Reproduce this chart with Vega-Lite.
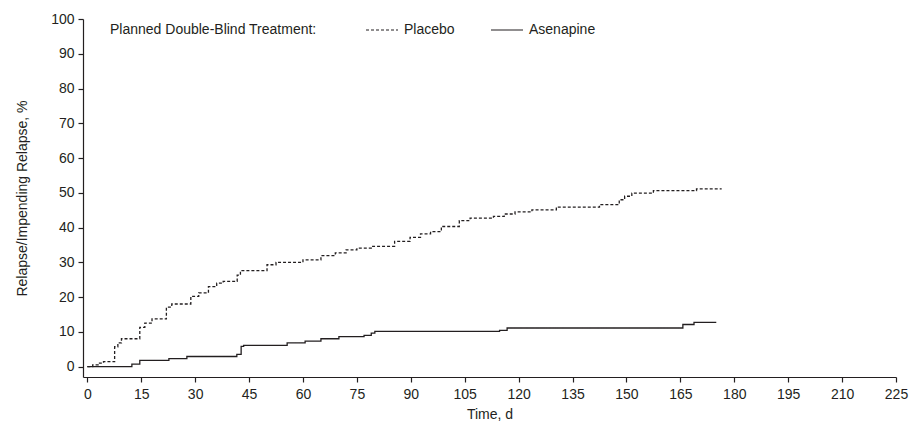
{
  "$schema": "https://vega.github.io/schema/vega-lite/v6.json",
  "width": 813,
  "height": 358,
  "autosize": {"type": "none"},
  "padding": {"left": 83, "top": 19, "right": 14, "bottom": 54},
  "background": "white",
  "config": {
    "view": {"stroke": null},
    "font": "Liberation Sans, Arial, sans-serif",
    "axis": {
      "domainColor": "#231f20",
      "tickColor": "#231f20",
      "labelColor": "#231f20",
      "titleColor": "#231f20",
      "labelFont": "Liberation Sans",
      "titleFont": "Liberation Sans",
      "labelFontSize": 14,
      "titleFontSize": 14,
      "titleFontWeight": "normal",
      "grid": false,
      "tickSize": 5,
      "domainWidth": 1.2,
      "tickWidth": 1.2
    }
  },
  "data": {
    "values": [
      {"arm": "Placebo", "t": 0, "v": 0},
      {"arm": "Placebo", "t": 1.5, "v": 0.5},
      {"arm": "Placebo", "t": 3, "v": 1.0},
      {"arm": "Placebo", "t": 4.5, "v": 1.4},
      {"arm": "Placebo", "t": 7.6, "v": 5.7},
      {"arm": "Placebo", "t": 8.5, "v": 6.8},
      {"arm": "Placebo", "t": 9.5, "v": 8.0},
      {"arm": "Placebo", "t": 14.6, "v": 11.3},
      {"arm": "Placebo", "t": 16, "v": 12.5},
      {"arm": "Placebo", "t": 18, "v": 13.7},
      {"arm": "Placebo", "t": 22, "v": 17.1},
      {"arm": "Placebo", "t": 23.5, "v": 18.0},
      {"arm": "Placebo", "t": 28.8, "v": 20.2},
      {"arm": "Placebo", "t": 31, "v": 21.2},
      {"arm": "Placebo", "t": 33.7, "v": 23.0},
      {"arm": "Placebo", "t": 36, "v": 24.0},
      {"arm": "Placebo", "t": 37.8, "v": 24.5},
      {"arm": "Placebo", "t": 41.7, "v": 26.3},
      {"arm": "Placebo", "t": 42.6, "v": 27.6},
      {"arm": "Placebo", "t": 50, "v": 29.3},
      {"arm": "Placebo", "t": 52.5, "v": 30.0},
      {"arm": "Placebo", "t": 60, "v": 30.7},
      {"arm": "Placebo", "t": 65, "v": 31.9},
      {"arm": "Placebo", "t": 69, "v": 32.7},
      {"arm": "Placebo", "t": 72, "v": 33.6},
      {"arm": "Placebo", "t": 75, "v": 34.1},
      {"arm": "Placebo", "t": 79, "v": 34.6},
      {"arm": "Placebo", "t": 85.5, "v": 36.0},
      {"arm": "Placebo", "t": 89.8, "v": 37.2},
      {"arm": "Placebo", "t": 92.7, "v": 38.2},
      {"arm": "Placebo", "t": 95.5, "v": 38.8},
      {"arm": "Placebo", "t": 98.5, "v": 40.3},
      {"arm": "Placebo", "t": 103.5, "v": 42.0},
      {"arm": "Placebo", "t": 106.5, "v": 42.7},
      {"arm": "Placebo", "t": 113, "v": 43.2},
      {"arm": "Placebo", "t": 116, "v": 43.9},
      {"arm": "Placebo", "t": 119, "v": 44.5},
      {"arm": "Placebo", "t": 123.7, "v": 45.1},
      {"arm": "Placebo", "t": 130.5, "v": 45.9},
      {"arm": "Placebo", "t": 142.5, "v": 46.6},
      {"arm": "Placebo", "t": 148, "v": 48.0},
      {"arm": "Placebo", "t": 149.5, "v": 49.0},
      {"arm": "Placebo", "t": 151.5, "v": 49.9},
      {"arm": "Placebo", "t": 157.5, "v": 50.6},
      {"arm": "Placebo", "t": 169.5, "v": 51.1},
      {"arm": "Placebo", "t": 176.5, "v": 51.1},
      {"arm": "Asenapine", "t": 0, "v": 0},
      {"arm": "Asenapine", "t": 12.4, "v": 0.7},
      {"arm": "Asenapine", "t": 14.6, "v": 1.8},
      {"arm": "Asenapine", "t": 22.7, "v": 2.3},
      {"arm": "Asenapine", "t": 27.7, "v": 2.9},
      {"arm": "Asenapine", "t": 41.6, "v": 3.5},
      {"arm": "Asenapine", "t": 42.8, "v": 5.8},
      {"arm": "Asenapine", "t": 43.5, "v": 6.1},
      {"arm": "Asenapine", "t": 55.6, "v": 6.8},
      {"arm": "Asenapine", "t": 60.6, "v": 7.3},
      {"arm": "Asenapine", "t": 65, "v": 8.0},
      {"arm": "Asenapine", "t": 70, "v": 8.6},
      {"arm": "Asenapine", "t": 77, "v": 9.0},
      {"arm": "Asenapine", "t": 79, "v": 9.6},
      {"arm": "Asenapine", "t": 80, "v": 10.1},
      {"arm": "Asenapine", "t": 114.7, "v": 10.4},
      {"arm": "Asenapine", "t": 116.8, "v": 11.1},
      {"arm": "Asenapine", "t": 165.7, "v": 12.1},
      {"arm": "Asenapine", "t": 168.8, "v": 12.7},
      {"arm": "Asenapine", "t": 175, "v": 12.7}
    ]
  },
  "mark": {"type": "line", "interpolate": "step-after", "color": "#231f20", "strokeWidth": 1.3},
  "encoding": {
    "x": {
      "field": "t", "type": "quantitative",
      "scale": {"domain": [-1.2, 225], "nice": false, "zero": false},
      "axis": {"values": [0,15,30,45,60,75,90,105,120,135,150,165,180,195,210,225], "title": "Time, d", "labelPadding": 5, "titlePadding": 6, "labelFlush": false}
    },
    "y": {
      "field": "v", "type": "quantitative",
      "scale": {"domain": [-3, 100], "nice": false, "zero": false},
      "axis": {"values": [0,10,20,30,40,50,60,70,80,90,100], "title": "Relapse/Impending Relapse, %", "labelPadding": 4, "titlePadding": 21}
    },
    "strokeDash": {
      "field": "arm", "type": "nominal",
      "scale": {"domain": ["Placebo", "Asenapine"], "range": [[3, 2], [1, 0]]},
      "legend": {
        "title": "Planned Double-Blind Treatment:",
        "titleOrient": "left",
        "titleAnchor": "end",
        "titleBaseline": "bottom",
        "titleFont": "Liberation Sans",
        "labelFont": "Liberation Sans",
        "titleFontWeight": "normal",
        "titleFontSize": 14,
        "titleColor": "#231f20",
        "titleLimit": 500,
        "titlePadding": 48,
        "direction": "horizontal",
        "orient": "none",
        "legendX": 27,
        "legendY": -6,
        "labelFontSize": 14,
        "labelColor": "#231f20",
        "labelOffset": 5,
        "columnPadding": 33,
        "symbolType": "stroke",
        "symbolSize": 1024,
        "symbolStrokeWidth": 1.2,
        "symbolStrokeColor": "#231f20"
      }
    }
  }
}
